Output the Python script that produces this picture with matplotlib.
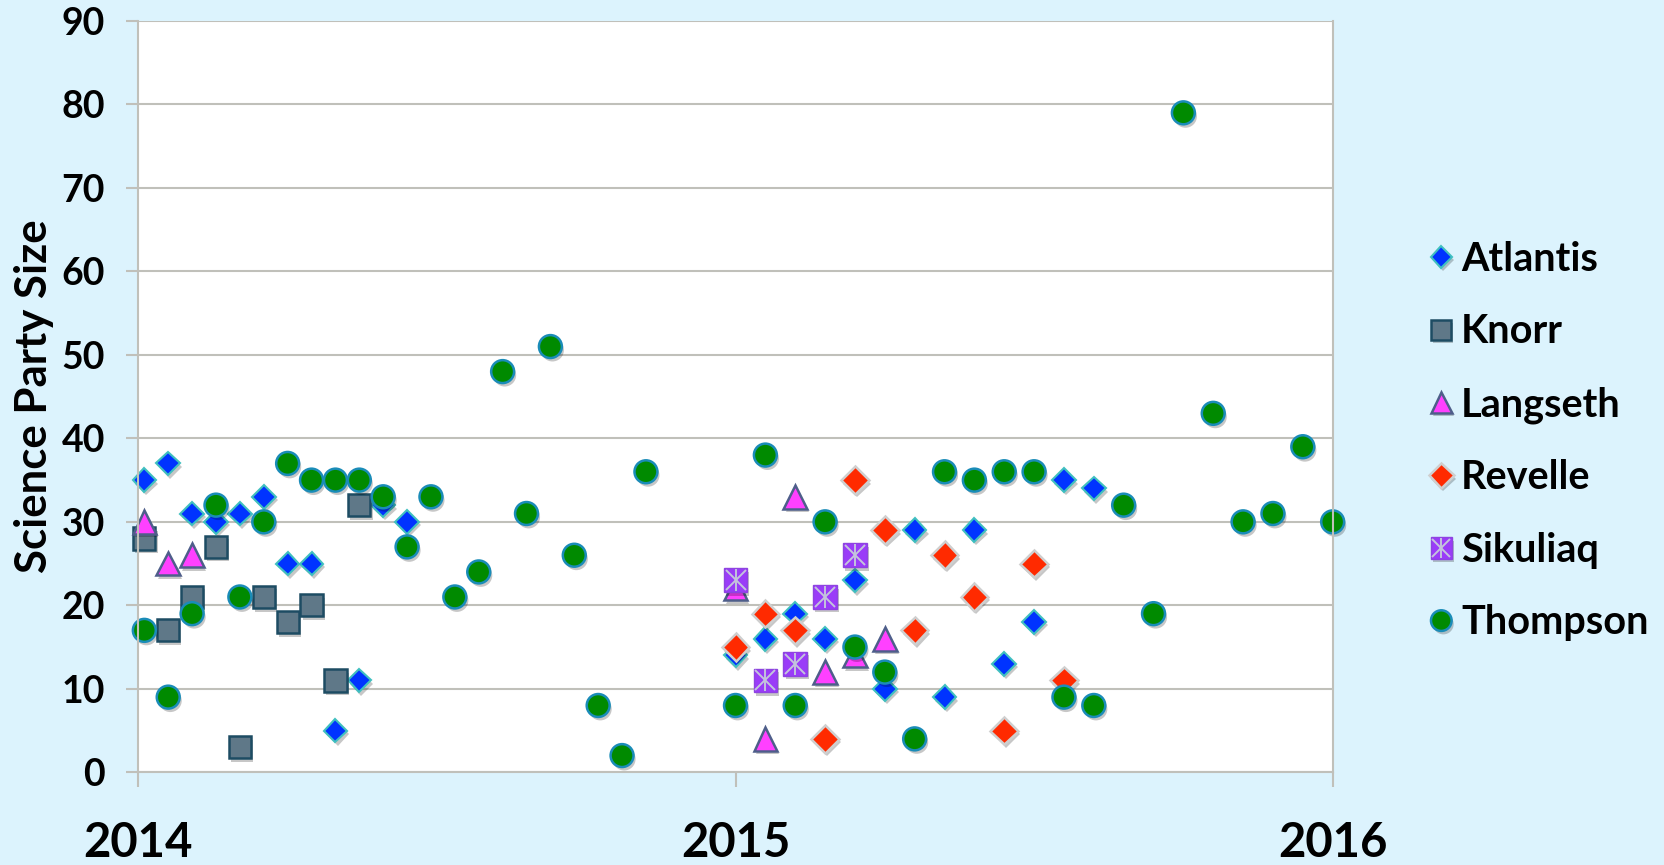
import matplotlib
matplotlib.use("Agg")
import matplotlib.pyplot as plt
import matplotlib.patheffects as pe

# Science party size per cruise, x in fractional years
atlantis_x = [2014.01, 2014.05, 2014.09, 2014.13, 2014.17, 2014.21, 2014.25, 2014.29, 2014.33, 2014.37,
              2014.41, 2014.45, 2015.00, 2015.05, 2015.10, 2015.15, 2015.20, 2015.25, 2015.30, 2015.35,
              2015.40, 2015.45, 2015.50, 2015.55, 2015.60]
atlantis_y = [35, 37, 31, 30, 31, 33, 25, 25, 5, 11,
              32, 30, 14, 16, 19, 16, 23, 10, 29, 9,
              29, 13, 18, 35, 34]

knorr_x = [2014.01, 2014.05, 2014.09, 2014.13, 2014.17, 2014.21, 2014.25, 2014.29, 2014.33, 2014.37]
knorr_y = [28, 17, 21, 27, 3, 21, 18, 20, 11, 32]

langseth_x = [2014.01, 2014.05, 2014.09, 2015.00, 2015.05, 2015.10, 2015.15, 2015.20, 2015.25]
langseth_y = [30, 25, 26, 22, 4, 33, 12, 14, 16]

revelle_x = [2015.00, 2015.05, 2015.10, 2015.15, 2015.20, 2015.25, 2015.30, 2015.35, 2015.40, 2015.45,
             2015.50, 2015.55]
revelle_y = [15, 19, 17, 4, 35, 29, 17, 26, 21, 5, 25, 11]

sikuliaq_x = [2015.00, 2015.05, 2015.10, 2015.15, 2015.20]
sikuliaq_y = [23, 11, 13, 21, 26]

thompson_x = [2014.01, 2014.05, 2014.09, 2014.13, 2014.17, 2014.21, 2014.25, 2014.29, 2014.33, 2014.37,
              2014.41, 2014.45, 2014.49, 2014.53, 2014.57, 2014.61, 2014.65, 2014.69, 2014.73, 2014.77,
              2014.81, 2014.85,
              2015.00, 2015.05, 2015.10, 2015.15, 2015.20, 2015.25, 2015.30, 2015.35, 2015.40, 2015.45,
              2015.50, 2015.55, 2015.60, 2015.65, 2015.70, 2015.75, 2015.80, 2015.85, 2015.90, 2015.95,
              2016.00]
thompson_y = [17, 9, 19, 32, 21, 30, 37, 35, 35, 35,
              33, 27, 33, 21, 24, 48, 31, 51, 26, 8,
              2, 36,
              8, 38, 8, 30, 15, 12, 4, 36, 35, 36,
              36, 9, 8, 32, 19, 79, 43, 30, 31, 39,
              30]

year_ticks = [2014, 2015, 2016]
year_labels = ["2014", "2015", "2016"]

plt.rcParams['font.family'] = ['Lato', 'DejaVu Sans']
plt.rcParams['font.weight'] = 'bold'

bg = '#DCF3FD'
grid_color = '#C0C0BA'

fig = plt.figure(figsize=(16.65, 8.65), dpi=100, facecolor=bg)
ax = fig.add_axes([0.0831, 0.1072, 0.7173, 0.8685])
ax.set_facecolor('white')

shadow = [pe.SimplePatchShadow(offset=(1.5, -2.5), shadow_rgbFace='black', alpha=0.22), pe.Normal()]

h_atl, = ax.plot(atlantis_x, atlantis_y, linestyle='none', marker='D', markersize=12,
                 markerfacecolor='#0033FF', markeredgecolor='#40C0C0', markeredgewidth=1.5,
                 clip_on=False, label='Atlantis', path_effects=shadow)
h_kno, = ax.plot(knorr_x, knorr_y, linestyle='none', marker='s', markersize=16,
                 markerfacecolor='#5F7888', markeredgecolor='#1D4C63', markeredgewidth=1.8,
                 clip_on=False, label='Knorr', path_effects=shadow)
h_lan, = ax.plot(langseth_x, langseth_y, linestyle='none', marker='^', markersize=17,
                 markerfacecolor='#FF40FF', markeredgecolor='#4E5E8A', markeredgewidth=1.8,
                 clip_on=False, label='Langseth', path_effects=shadow)
h_rev, = ax.plot(revelle_x, revelle_y, linestyle='none', marker='D', markersize=14,
                 markerfacecolor='#FF2A00', markeredgecolor='#CFCFCF', markeredgewidth=1.8,
                 clip_on=False, label='Revelle', path_effects=shadow)
h_sik, = ax.plot(sikuliaq_x, sikuliaq_y, linestyle='none', marker='s', markersize=17,
                 markerfacecolor='#9A3CF8', markeredgecolor='#8E44E0', markeredgewidth=1.0,
                 clip_on=False, path_effects=shadow)
h_six, = ax.plot(sikuliaq_x, sikuliaq_y, linestyle='none', marker='x', markersize=15,
                 markeredgecolor='#C4C4DC', markeredgewidth=1.4, clip_on=False)
h_sib, = ax.plot(sikuliaq_x, sikuliaq_y, linestyle='none', marker='|', markersize=16,
                 markeredgecolor='#C4C4DC', markeredgewidth=1.4, clip_on=False)
h_tho, = ax.plot(thompson_x, thompson_y, linestyle='none', marker='o', markersize=16.5,
                 markerfacecolor='#008A00', markeredgecolor='#1A8CB8', markeredgewidth=1.8,
                 clip_on=False, label='Thompson', path_effects=shadow)

ax.set_xlim(2014, 2016)
ax.set_ylim(0, 90)
ax.set_yticks(range(0, 91, 10))
ax.set_xticks(year_ticks)
ax.set_xticklabels(year_labels, fontsize=34, fontweight='bold')
ax.tick_params(axis='y', labelsize=27, length=9, width=1.5, color=grid_color, pad=15)
ax.tick_params(axis='x', length=11, width=1.5, color=grid_color, pad=24)
for lab in ax.get_yticklabels():
    lab.set_fontweight('bold')

ax.yaxis.grid(True, color=grid_color, linewidth=1.5)
ax.set_axisbelow(True)
for side in ['left', 'right', 'bottom']:
    ax.spines[side].set_color(grid_color)
    ax.spines[side].set_linewidth(1.5)
ax.spines['top'].set_visible(False)

ax.set_ylabel('Science Party Size', fontsize=31.5, fontweight='bold', labelpad=5)

handles = [h_atl, h_kno, h_lan, h_rev, (h_sik, h_six, h_sib), h_tho]
labels = ['Atlantis', 'Knorr', 'Langseth', 'Revelle', 'Sikuliaq', 'Thompson']
leg = fig.legend(handles, labels, loc='center left', bbox_to_anchor=(0.849, 0.49),
                 frameon=False, fontsize=28.5, labelspacing=0.9, handlelength=0.6,
                 handletextpad=0.2, borderaxespad=0, markerscale=0.9)
for t in leg.get_texts():
    t.set_fontweight('bold')

fig.savefig('out.png', dpi=100, facecolor=bg)
